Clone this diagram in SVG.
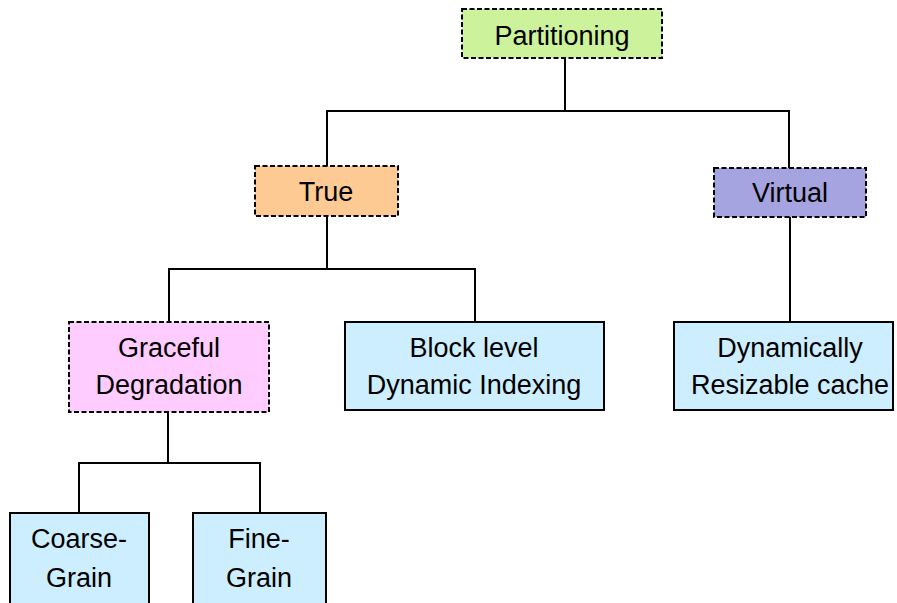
<svg xmlns="http://www.w3.org/2000/svg" width="897" height="603" viewBox="0 0 897 603">
<style>
.box{stroke:#000;stroke-width:2}
.dash{stroke-dasharray:5,2.5}
.t{font-family:"Liberation Sans",Arial,sans-serif;font-size:27px;fill:#000;text-anchor:middle}
.c{fill:none;stroke:#000;stroke-width:2}
</style>
<rect width="897" height="603" fill="#fff"/>
<g id="connectors">
<polyline class="c" points="565,58 565,111 327,111 327,166"/>
<polyline class="c" points="565,111 789,111 789,168"/>
<polyline class="c" points="327,216 327,269 169,269 169,322"/>
<polyline class="c" points="327,269 475,269 475,322"/>
<polyline class="c" points="790,217 790,322"/>
<polyline class="c" points="168,412 168,463 79,463 79,513"/>
<polyline class="c" points="168,463 260,463 260,513"/>
</g>
<g id="partitioning">
<rect class="box dash" x="462" y="9" width="200" height="49" fill="#ccf29c"/>
<text class="t" x="562" y="45">Partitioning</text>
</g>
<g id="true">
<rect class="box dash" x="255" y="166" width="143" height="50" fill="#fdca94"/>
<text class="t" x="326" y="201">True</text>
</g>
<g id="virtual">
<rect class="box dash" x="714" y="168" width="152" height="49" fill="#a5a3e0"/>
<text class="t" x="790" y="202">Virtual</text>
</g>
<g id="graceful">
<rect class="box dash" x="69" y="322" width="200" height="90" fill="#ffccff"/>
<text class="t" x="169" y="357">Graceful</text>
<text class="t" x="169" y="394">Degradation</text>
</g>
<g id="block">
<rect class="box" x="345" y="322" width="259" height="88" fill="#cceeff"/>
<text class="t" x="474" y="357">Block level</text>
<text class="t" x="474" y="394">Dynamic Indexing</text>
</g>
<g id="dynamically">
<rect class="box" x="674" y="322" width="219" height="88" fill="#cceeff"/>
<text class="t" x="790" y="357">Dynamically</text>
<text class="t" x="790" y="394">Resizable cache</text>
</g>
<g id="coarse">
<rect class="box" x="10" y="513" width="139" height="95" fill="#cceeff"/>
<text class="t" x="79" y="548">Coarse-</text>
<text class="t" x="79" y="587">Grain</text>
</g>
<g id="fine">
<rect class="box" x="193" y="513" width="133" height="95" fill="#cceeff"/>
<text class="t" x="259" y="548">Fine-</text>
<text class="t" x="259" y="587">Grain</text>
</g>
</svg>
